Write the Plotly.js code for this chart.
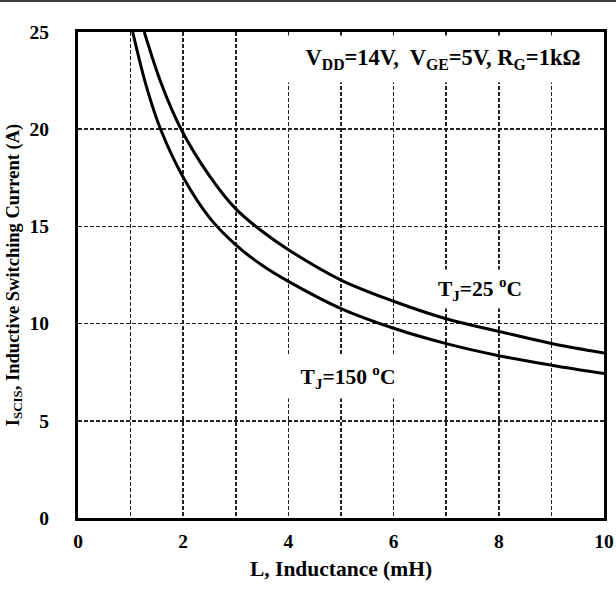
<!DOCTYPE html>
<html>
<head>
<meta charset="utf-8">
<script src="https://cdn.plot.ly/plotly-3.0.1.min.js"></script>
<style>
  html, body { margin: 0; padding: 0; background: #fff; }
  #chart { width: 616px; height: 593px; }
</style>
</head>
<body>
<div id="chart"></div>
<script>
// Inductance (mH) and switching current (A) for TJ = 25 °C
const L_25 = [1.26, 1.59, 1.96, 2.5, 3, 3.5, 4, 5, 6, 7, 8, 9, 10];
const I_25 = [25, 22.3, 20, 17.6, 15.9, 14.75, 13.8, 12.24, 11.15, 10.25, 9.6, 8.98, 8.49];

// Inductance (mH) and switching current (A) for TJ = 150 °C
const L_150 = [1.04, 1.3, 1.57, 2, 2.5, 3, 3.5, 4, 5, 6, 7, 8, 9, 10];
const I_150 = [25, 22.2, 20, 17.53, 15.45, 14.05, 13.0, 12.17, 10.77, 9.76, 8.97, 8.35, 7.86, 7.43];

// Axis tick values
const xTicks = [0, 2, 4, 6, 8, 10];
const yTicks = [0, 5, 10, 15, 20, 25];

// Labels
const conditionText = 'V<sub>DD</sub>=14V,  V<sub>GE</sub>=5V, R<sub>G</sub>=1kΩ';
const label25 = 'T<sub>J</sub>=25 <sup>o</sup>C';
const label150 = 'T<sub>J</sub>=150 <sup>o</sup>C';

const FONT = '"Times New Roman", "Liberation Serif", serif';
const gridDash = '4px,2px';
const gridColor = '#222';
const gridWidth = 1.5;

const curveLine = { color: '#000', width: 3, shape: 'spline', smoothing: 1 };

const traces = [
  { x: L_25, y: I_25, mode: 'lines', line: curveLine, hoverinfo: 'skip', showlegend: false },
  { x: L_150, y: I_150, mode: 'lines', line: curveLine, hoverinfo: 'skip', showlegend: false }
];

const axisCommon = {
  showline: true, mirror: true, linecolor: '#000', linewidth: 3,
  showgrid: true, gridcolor: gridColor, gridwidth: gridWidth, griddash: gridDash,
  zeroline: false, ticks: '', fixedrange: true,
  tickfont: { family: FONT, size: 19.5, color: '#000', weight: 'bold' }
};

const labelFont = { family: FONT, size: 21.5, color: '#000', weight: 'bold' };

const layout = {
  width: 616, height: 593,
  margin: { l: 78, r: 12, t: 32, b: 75 },
  paper_bgcolor: '#fff', plot_bgcolor: '#fff',
  font: { family: FONT, color: '#000', weight: 'bold' },
  xaxis: Object.assign({}, axisCommon, {
    range: [0, 10], tickvals: xTicks, ticktext: xTicks.map(String),
    ticklabelstandoff: 4,
    minor: { dtick: 1, tick0: 0, showgrid: true, gridcolor: gridColor, gridwidth: gridWidth, griddash: gridDash, ticks: '' },
    title: { text: 'L, Inductance (mH)', font: { family: FONT, size: 21.5, color: '#000', weight: 'bold' }, standoff: 10 }
  }),
  yaxis: Object.assign({}, axisCommon, {
    range: [0, 25], tickvals: yTicks, ticktext: yTicks.map(String),
    ticklabelstandoff: 22,
    title: { text: 'I<sub>SCIS</sub>, Inductive Switching Current (A)', font: { family: FONT, size: 18.5, color: '#000', weight: 'bold' }, standoff: 6 }
  }),
  annotations: [
    { x: 6.93, y: 23.6, xref: 'x', yref: 'y', text: conditionText, showarrow: false,
      bgcolor: '#fff', width: 312, height: 44, font: { family: FONT, size: 22.5, color: '#000', weight: 'bold' } },
    { x: 7.64, y: 11.78, xref: 'x', yref: 'y', text: label25, showarrow: false,
      bgcolor: '#fff', width: 92, height: 36, font: labelFont },
    { x: 5.14, y: 7.24, xref: 'x', yref: 'y', text: label150, showarrow: false,
      bgcolor: '#fff', width: 122, height: 40, font: labelFont }
  ],
  shapes: [
    // thin rule along the top edge of the figure
    { type: 'line', xref: 'paper', yref: 'paper', x0: -78 / 526, x1: 1 + 12 / 526,
      y0: 1 + 31 / 486, y1: 1 + 31 / 486, line: { color: '#000', width: 1.5 } }
  ]
};

Plotly.newPlot('chart', traces, layout, { staticPlot: true, displayModeBar: false });
</script>
</body>
</html>
